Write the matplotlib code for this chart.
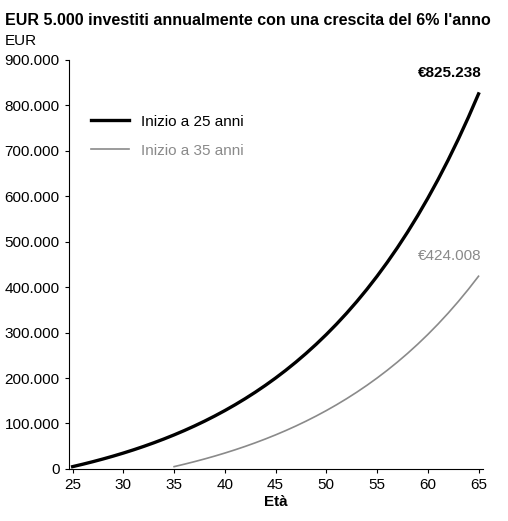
import matplotlib.pyplot as plt
from matplotlib.ticker import FuncFormatter

plt.rcParams['font.family'] = ['Liberation Sans', 'DejaVu Sans']

ages_25 = list(range(25, 66))
values_25 = [5000, 10300, 15918, 21873, 28185, 34877, 41969, 49487, 57457, 65904,
             74858, 84350, 94411, 105075, 116380, 128363, 141065, 154529, 168801, 183928,
             199964, 216962, 234980, 254078, 274323, 295782, 318529, 342641, 368199, 395291,
             424008, 454449, 486716, 520919, 557174, 595604, 636340, 679521, 725292, 773810,
             825238]
ages_35 = list(range(35, 66))
values_35 = values_25[:31]

title = "EUR 5.000 investiti annualmente con una crescita del 6% l'anno"
labels = ["Inizio a 25 anni", "Inizio a 35 anni"]

fig = plt.figure(figsize=(5.08, 5.21), dpi=100)
ax = fig.add_axes([0.135, 0.1, 0.815, 0.785])
ax.plot(ages_25, values_25, color='black', lw=2.4, label=labels[0])
ax.plot(ages_35, values_35, color='#8a8a8a', lw=1.2, label=labels[1])

ax.set_xlim(24.6, 65.4)
ax.set_ylim(0, 900000)
ax.set_xticks(range(25, 66, 5))
ax.set_yticks(range(0, 900001, 100000))
ax.yaxis.set_major_formatter(FuncFormatter(lambda v, p: f"{int(v):,}".replace(',', '.')))
ax.spines['top'].set_visible(False)
ax.spines['right'].set_visible(False)
ax.tick_params(labelsize=11, length=3)
ax.set_xlabel("Età", fontsize=11, fontweight='bold', labelpad=2)

ax.annotate(f"€{values_25[-1]:,}".replace(',', '.'), (ages_25[-1], values_25[-1]),
            xytext=(2, 12), textcoords='offset points', ha='right', fontsize=11, fontweight='bold')
ax.annotate(f"€{values_35[-1]:,}".replace(',', '.'), (ages_35[-1], values_35[-1]),
            xytext=(2, 12), textcoords='offset points', ha='right', fontsize=11, color='#8a8a8a')

ax.legend(loc='upper left', bbox_to_anchor=(0.02, 0.9), frameon=False, fontsize=11,
          handlelength=2.5, labelspacing=1.0)
ax.get_legend().get_texts()[1].set_color('#8a8a8a')

fig.text(0.01, 0.975, title, fontsize=11.5, fontweight='bold', va='top')
fig.text(0.01, 0.935, "EUR", fontsize=11, va='top')

fig.savefig('out.png')
